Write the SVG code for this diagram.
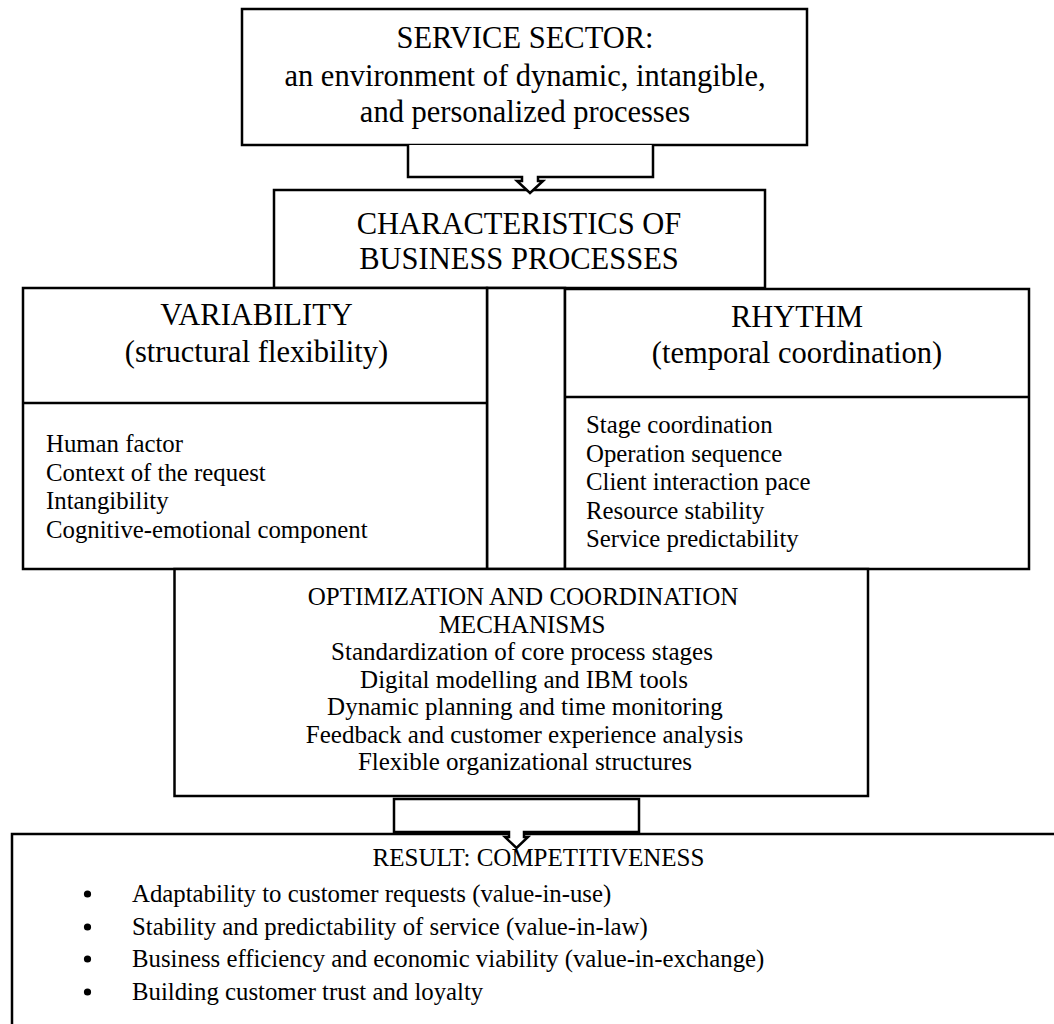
<svg xmlns="http://www.w3.org/2000/svg" width="1054" height="1024" viewBox="0 0 1054 1024">
<style>
.box{fill:#fff;stroke:#000;stroke-width:2.5}
.ln{fill:none;stroke:#000;stroke-width:2.5}
.arr{fill:#fff;stroke:#000;stroke-width:2.5;stroke-linejoin:miter}
text{font-family:"Liberation Serif","Times New Roman",serif;fill:#000}
.h{font-size:30.5px}
.b{font-size:24.8px}
.o{font-size:25px}
.c{text-anchor:middle}
</style>
<rect width="1054" height="1024" fill="#fff"/>
<g id="service-sector">
<rect class="box" x="242" y="9" width="565" height="136"/>
<text class="h c" x="525" y="48">SERVICE SECTOR:</text>
<text class="h c" x="525" y="86">an environment of dynamic, intangible,</text>
<text class="h c" x="525" y="122">and personalized processes</text>
</g>
<g id="characteristics">
<rect class="box" x="274" y="190" width="491" height="98"/>
<text class="h c" x="519" y="234">CHARACTERISTICS OF</text>
<text class="h c" x="519" y="269">BUSINESS PROCESSES</text>
</g>
<g id="middle-column">
<rect class="box" x="487" y="288" width="78" height="281"/>
</g>
<g id="variability">
<rect class="box" x="23" y="288" width="464" height="281"/>
<line class="ln" x1="23" y1="403" x2="487" y2="403"/>
<text class="h c" x="256.5" y="325">VARIABILITY</text>
<text class="h c" x="256.5" y="362">(structural flexibility)</text>
<text class="b" x="46" y="452">Human factor</text>
<text class="b" x="46" y="481">Context of the request</text>
<text class="b" x="46" y="509">Intangibility</text>
<text class="b" x="46" y="538">Cognitive-emotional component</text>
</g>
<g id="rhythm">
<rect class="box" x="565" y="289" width="464" height="280"/>
<line class="ln" x1="565" y1="397" x2="1029" y2="397"/>
<text class="h c" x="797" y="327">RHYTHM</text>
<text class="h c" x="797" y="363">(temporal coordination)</text>
<text class="b" x="586" y="433">Stage coordination</text>
<text class="b" x="586" y="462">Operation sequence</text>
<text class="b" x="586" y="490">Client interaction pace</text>
<text class="b" x="586" y="519">Resource stability</text>
<text class="b" x="586" y="547">Service predictability</text>
</g>
<g id="optimization">
<rect class="box" x="174.5" y="569" width="693.5" height="227"/>
<text class="o c" x="523" y="605">OPTIMIZATION AND COORDINATION</text>
<text class="o c" x="522" y="633">MECHANISMS</text>
<text class="o c" x="522" y="660">Standardization of core process stages</text>
<text class="o c" x="524" y="688">Digital modelling and IBM tools</text>
<text class="o c" x="525" y="715">Dynamic planning and time monitoring</text>
<text class="o c" x="524.5" y="743">Feedback and customer experience analysis</text>
<text class="o c" x="525" y="770">Flexible organizational structures</text>
</g>
<g id="result">
<rect class="box" x="12" y="834" width="1070" height="220"/>
<text class="o c" x="538.5" y="866">RESULT: COMPETITIVENESS</text>
<circle cx="87.5" cy="894" r="3.6"/>
<circle cx="87.5" cy="927" r="3.6"/>
<circle cx="87.5" cy="959" r="3.6"/>
<circle cx="87.5" cy="992" r="3.6"/>
<text class="b" x="132" y="902">Adaptability to customer requests (value-in-use)</text>
<text class="b" x="132" y="935">Stability and predictability of service (value-in-law)</text>
<text class="b" x="132" y="967">Business efficiency and economic viability (value-in-exchange)</text>
<text class="b" x="132" y="1000">Building customer trust and loyalty</text>
</g>
<g id="connectors">
<path class="arr" d="M408,145 V177 H522 V181 H517 L530,193 L543,181 H538 V177 H653 V145"/>
<path class="arr" d="M394,799 H639 V832 H524 V837 H528 L516.5,848 L505,837 H509 V832 H394 Z"/>
</g>
</svg>
